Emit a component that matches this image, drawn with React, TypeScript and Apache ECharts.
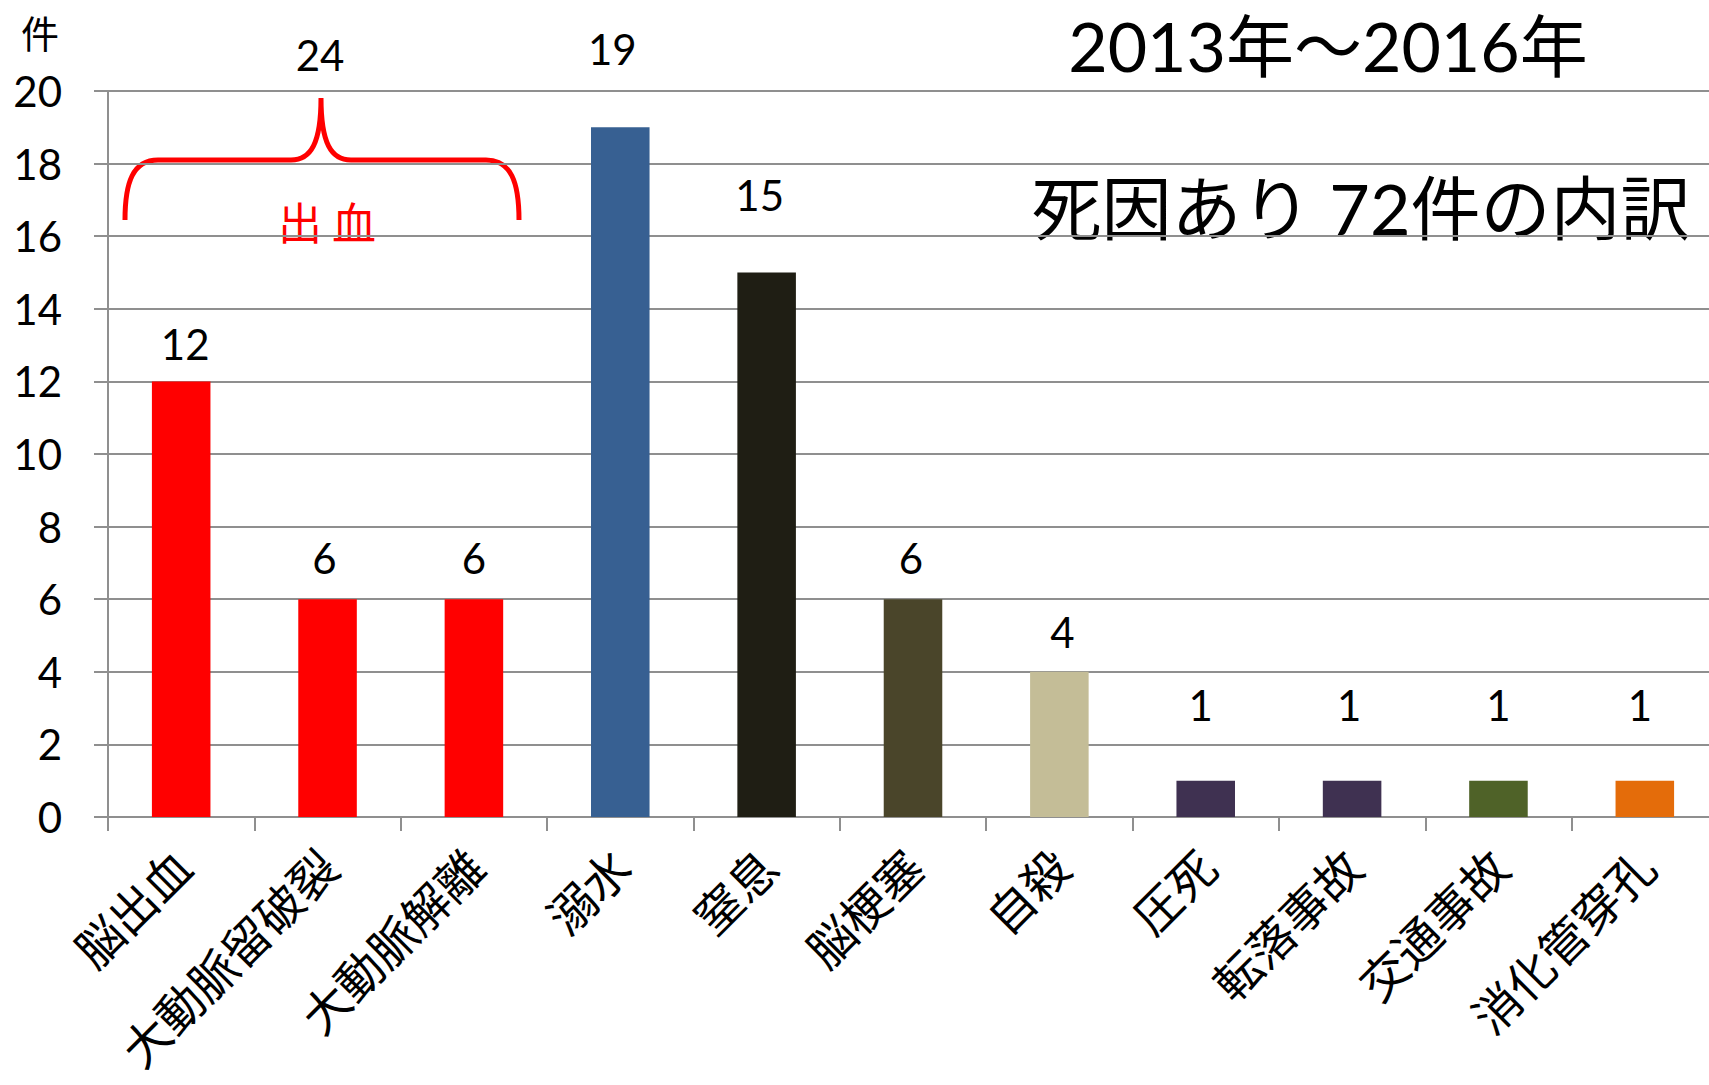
import React, { useEffect, useRef } from "react";
import * as echarts from "echarts";

// ---- data ----
const categories = [
  "脳出血",
  "大動脈留破裂",
  "大動脈解離",
  "溺水",
  "窒息",
  "脳梗塞",
  "自殺",
  "圧死",
  "転落事故",
  "交通事故",
  "消化管穿孔",
];
const counts = [12, 6, 6, 19, 15, 6, 4, 1, 1, 1, 1];
const barColors = [
  "#FF0000",
  "#FF0000",
  "#FF0000",
  "#376092",
  "#1F1E14",
  "#4A452A",
  "#C4BD97",
  "#3F3151",
  "#3F3151",
  "#4F6228",
  "#E46C0A",
];
const yMin = 0;
const yMax = 20;
const yStep = 2;
const bleedingGroup = [0, 1, 2]; // indices of the 出血 group
const unitLabel = "件";
const groupLabel = "出 血";
const titleLine1 = "2013年～2016年";
const titleLine2 = "死因あり 72件の内訳";

// label placement (style, not data)
const labelDistance = [16, 20, 20, 57, 57, 20, 19, 55, 55, 55, 55];
const labelShiftX = [4, -3, 0, -8, -7, -2, 3, -5, -3, 0, -5];

const NUM_FONT = "Lato, 'Noto Sans CJK JP', sans-serif";
const JP_FONT = "'Noto Sans CJK JP', sans-serif";
const GRID_COLOR = "#8F8F8F";

const braceD =
  "M -196 122 C -196 84 -188 62 -163 62 L -30 62 C -10 62 0 45 0 0 " +
  "C 0 45 10 62 30 62 L 165 62 C 190 62 198 84 198 122";

let braceRegistered = false;

export default function App() {
  const ref = useRef<HTMLDivElement>(null);

  useEffect(() => {
    if (!ref.current) return;
    if (!braceRegistered) {
      echarts.graphic.registerShape("brace", echarts.graphic.extendPath(braceD, {}));
      braceRegistered = true;
    }
    const chart = echarts.init(ref.current, null, { renderer: "svg" });
    const groupTotal = bleedingGroup.reduce((s, i) => s + counts[i], 0);

    const option: any = {
      animation: false,
      backgroundColor: "#FFFFFF",
      grid: {
        left: 108,
        top: 91,
        right: -9,
        bottom: 268,
        containLabel: false,
        outerBoundsMode: "none",
      },
      xAxis: {
        type: "category",
        data: categories,
        boundaryGap: true,
        axisLine: { show: true, lineStyle: { color: GRID_COLOR, width: 2 } },
        axisTick: { show: true, inside: false, length: 14, lineStyle: { color: GRID_COLOR, width: 2 } },
        axisLabel: {
          interval: 0,
          rotate: 45,
          margin: 40,
          color: "#000000",
          fontSize: 47,
          fontFamily: JP_FONT,
        },
        splitLine: { show: false },
      },
      yAxis: {
        type: "value",
        min: yMin,
        max: yMax,
        interval: yStep,
        axisLine: { show: true, lineStyle: { color: GRID_COLOR, width: 2 } },
        axisTick: { show: true, inside: false, length: 14, lineStyle: { color: GRID_COLOR, width: 2 } },
        axisLabel: { margin: 46, color: "#000000", fontSize: 42, fontFamily: NUM_FONT },
        splitLine: { show: true, lineStyle: { color: GRID_COLOR, width: 2 } },
      },
      series: [
        {
          type: "bar",
          barWidth: "40%",
          data: counts.map((v, i) => ({
            value: v,
            itemStyle: { color: barColors[i] },
            label: { distance: labelDistance[i], offset: [labelShiftX[i], 0] },
          })),
          label: {
            show: true,
            position: "top",
            color: "#000000",
            fontSize: 42,
            fontFamily: NUM_FONT,
          },
        },
      ],
      graphic: [
        {
          type: "text",
          x: 40,
          y: 31,
          style: {
            text: unitLabel,
            fontSize: 38,
            fontFamily: JP_FONT,
            fill: "#000000",
            textAlign: "center",
            textVerticalAlign: "middle",
          },
        },
        {
          type: "text",
          x: 320,
          y: 55,
          style: {
            text: String(groupTotal),
            fontSize: 42,
            fontFamily: NUM_FONT,
            fill: "#000000",
            textAlign: "center",
            textVerticalAlign: "middle",
          },
        },
        {
          type: "brace",
          x: 321,
          y: 98,
          style: { stroke: "#FF0000", lineWidth: 5, fill: "none" },
        },
        {
          type: "text",
          x: 327,
          y: 221,
          style: {
            text: groupLabel,
            fontSize: 44,
            fontFamily: JP_FONT,
            fill: "#FF0000",
            textAlign: "center",
            textVerticalAlign: "middle",
          },
        },
        {
          type: "text",
          x: 1328,
          y: 45,
          style: {
            text: titleLine1,
            fontSize: 68,
            fontFamily: NUM_FONT,
            fill: "#000000",
            textAlign: "center",
            textVerticalAlign: "middle",
          },
        },
        {
          type: "text",
          x: 1361,
          y: 208,
          style: {
            text: titleLine2,
            fontSize: 70,
            fontFamily: NUM_FONT,
            fill: "#000000",
            textAlign: "center",
            textVerticalAlign: "middle",
          },
        },
      ],
    };

    chart.setOption(option);
    return () => {
      chart.dispose();
    };
  }, []);

  return (
    <div
      ref={ref}
      style={{ position: "fixed", left: 0, top: 0, width: 1709, height: 1085, background: "#FFFFFF" }}
    />
  );
}
